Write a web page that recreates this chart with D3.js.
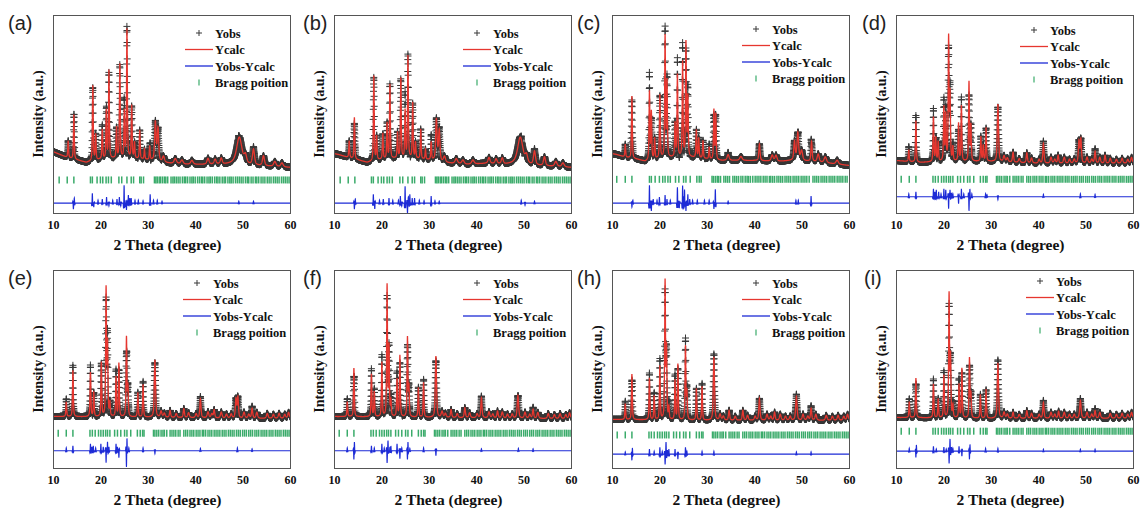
<!DOCTYPE html>
<html><head><meta charset="utf-8">
<script src="https://cdn.jsdelivr.net/npm/d3@7"></script>
<style>body{margin:0;background:#fff} .serif{font-family:"Liberation Serif","Times New Roman",serif;font-weight:bold} .sans{font-family:"Liberation Sans",Arial,sans-serif}</style>
</head><body>
<svg id="chart" width="1140" height="510"></svg>
<script>
// ---------------- DATA ----------------
const panelLabels = ["(a)","(b)","(c)","(d)","(e)","(f)","(h)","(i)"];
const xTicks = [10,20,30,40,50,60];
const legendLabels = ["Yobs","Ycalc","Yobs-Ycalc","Bragg poition"];
const xTitle = "2 Theta (degree)";
const yTitle = "Intensity (a.u.)";

// background control points [2theta, intensity]
const bgA = [[10,31],[11,30],[13,28],[15.5,26.5],[17,25.5],[18,26],[20,27],[23,27.5],[27,27.5],[29,27],[31,26.5],[33,25.5],[35,25],[38,24.5],[42,24.5],[46,24.5],[48,25],[52,24],[56,23.5],[60,23]];
const bgB = [[10,30],[11,29.5],[13,28],[15.5,26.5],[17,25.5],[18,26],[20,27],[23,27.5],[27,27.5],[29,27],[31,26.5],[33,25.5],[35,25],[38,24.5],[42,25],[46,24.5],[48,25],[52,24],[56,23.5],[60,23]];
const bgC = [[10,30],[11,29.5],[13,28],[15.5,27],[17,26],[18,26.5],[20,27.5],[23,28],[27,28],[29,27.5],[31,27],[33,26.5],[36,26.5],[40,26.5],[45,26],[48,26.5],[52,26],[56,25],[60,24]];
const bgD = [[10,26.5],[15,25.5],[20,26],[30,26],[40,25],[50,25],[60,25]];
const bgE = [[10,26],[20,25.8],[30,25.6],[40,25.3],[50,25],[60,25]];
const bgF = [[10,26],[30,25.5],[60,24.8]];
const bgH = [[10,24.5],[30,24],[60,24]];
const bgI = [[10,25.5],[30,25],[60,25]];

// reflections [2theta, height above background, fwhm (optional)]
const peaksA = [[13.2,8.5],[14.4,22.5],[18.4,38],[19.0,13],[20.4,15],[21.25,24],[21.8,44.5],[23.4,15.5],[24.1,47.5],[25.05,23],[25.6,65],[26.6,26.5],[27.2,8],[28.3,14.5],[29.3,5],[30.4,7],[31.6,19.5,0.35],[32.15,16.5,0.35],[33.3,3,0.5],[35.8,2.5,0.6],[37.2,2,0.6],[39.3,2,0.6],[42.7,3,0.5],[44.2,2.5,0.5],[45.5,3,0.5],[49.3,13.5,1.3],[50.6,4,0.6],[52.3,8,0.5],[54.4,5,0.5],[56.8,2.5,0.6],[58.3,2,0.6]];
const peaksB = [[13.2,8.5],[14.3,21],[18.4,43],[19.0,12],[20.3,13],[21.2,18],[21.8,37.5],[23.4,13],[24.1,40.5],[25.0,24],[25.6,51.5],[26.6,28],[27.2,8],[28.3,15],[29.3,5],[30.5,9],[31.6,21,0.35],[32.2,15.5,0.35],[33.3,3,0.5],[35.8,2.5,0.6],[37.2,2,0.6],[39.3,2,0.6],[42.7,3,0.5],[44.2,2.5,0.5],[45.5,3,0.5],[49.3,13.5,1.3],[50.6,4,0.6],[52.3,7,0.5],[54.4,4.5,0.5],[56.8,2.5,0.6],[58.3,2,0.6]];
const peaksC = [[12.8,6.5],[14.2,31.5],[17.9,34.5],[18.3,24],[19.0,10.5],[20.1,32],[21.2,61],[21.6,38],[23.3,17],[23.8,41.5],[24.9,48],[25.6,57.5],[26.0,30],[27.8,14],[28.3,10],[29.2,9],[30.5,6],[31.5,25],[31.9,23],[34.5,3,0.5],[37.2,2,0.6],[41.1,8.5,0.3],[43.8,3,0.5],[44.6,3,0.5],[48.5,9.5,0.35],[49.2,14,0.4],[50.0,5,0.5],[52.1,10,0.3],[53.5,4,0.5],[55,3,0.6],[57.5,2,0.6]];
const minorDI = [[32.8,3,0.4],[33.5,2,0.4],[36.0,2,0.4],[38.6,2.5,0.4],[40.2,2,0.4],[42.7,3,0.4],[43.5,2,0.4],[45.5,3,0.4],[46.6,2,0.4],[47.6,2,0.4],[50.3,3,0.4],[51.3,2,0.4],[53.0,3,0.4],[55.2,2.5,0.4],[56.5,2,0.4],[57.7,2.5,0.4],[58.9,2,0.4],[59.7,3,0.4]];
const peaksD = [[12.7,6],[14.2,21],[17.9,22.5],[18.4,12],[18.9,10],[20.1,27],[20.5,23],[21.1,62],[21.4,33],[22.0,7],[23.2,19],[23.8,28],[25.4,40],[25.8,18],[27.9,12.5],[28.4,8],[29.0,17],[31.5,29,0.3],[34.7,5,0.3],[37.6,5,0.3],[41.1,10,0.3],[44.2,4,0.3],[48.6,11,0.3],[49.0,12,0.3],[52.0,6,0.3],[54.1,4,0.3]];
const peaksE = [[12.8,7.4],[14.2,23.4],[17.9,22.4],[18.6,12.4],[20.2,27.4],[21.2,64],[21.5,36],[22.0,7],[23.3,20],[23.9,27],[25.5,40],[25.8,15],[27.9,12.4],[29.0,16.4],[31.5,29,0.3],[34.7,3.5,0.3],[37.6,4.5,0.3],[41.1,9.5,0.3],[44.0,4,0.3],[48.6,9.5,0.3],[49.0,10.5,0.3],[52.0,5,0.3]];
const peaksF = [[12.8,7.5],[14.2,24.5],[17.9,21.5],[18.5,12.5],[20.1,27.5],[21.2,66],[21.6,35],[22.0,7.5],[23.3,19],[23.9,31],[25.5,40],[25.8,15],[27.8,15],[28.9,17.5],[31.5,31,0.3],[34.7,4,0.3],[37.6,5,0.3],[41.1,10,0.3],[44.5,3.5,0.3],[48.8,11.5,0.35],[52.0,4.5,0.3]];
const peaksH = [[12.8,8],[14.2,23],[17.9,21],[18.9,12],[20.1,27],[21.2,69],[21.5,35],[22.0,6],[23.3,20],[23.9,28],[25.5,37],[25.8,14],[27.8,16],[29.0,17],[31.5,32,0.3],[34.7,5,0.3],[37.6,5,0.3],[41.1,11,0.3],[44.3,4,0.3],[48.9,12,0.35],[52.0,6,0.3]];
const peaksI = [[12.8,8],[14.2,20],[17.9,17],[18.9,9.6],[20.1,21.4],[21.2,62],[21.5,30],[22.0,6],[23.3,17],[23.9,25],[25.5,30],[25.8,12],[27.8,12],[29.0,14.7],[31.5,28,0.3],[34.7,3,0.3],[37.6,3.8,0.3],[41.1,8,0.3],[44.3,3.5,0.3],[48.9,9,0.35],[52.0,3.8,0.3]];

// difference-curve features [2theta, amplitude]
const diffA = [[14.3,-3],[14.5,2.5],[18.3,5],[18.6,-2],[19.5,1.5],[20.4,2],[21.3,3],[21.8,-1.5],[22.6,1.5],[23.5,2],[24.0,3],[24.3,-1.5],[25.0,9],[25.3,-2],[25.5,-3.5],[25.9,4],[26.2,2.5],[26.5,2.5],[27.3,1.5],[28.0,1.5],[29.0,1.2],[30.5,4.5],[31.2,1.5],[32.0,1.5],[33.0,1],[49.2,1],[52.3,1]];
const diffB = [[14.3,-3],[14.5,2],[18.3,4.5],[18.6,-3],[19.6,1.5],[20.4,2],[21.6,2.5],[22.4,1.5],[23.6,1.5],[24.0,3.5],[24.3,-1.5],[25.0,8.5],[25.5,-5],[25.7,3],[26.0,4.5],[26.5,2.5],[27.0,2.5],[28.0,1.5],[29.0,1.2],[30.5,3.5],[31.3,1.2],[32.2,1],[49.5,1.5],[50.3,-1.2],[52.3,1]];
const diffC = [[14.2,-2],[14.4,1.5],[17.9,9],[18.3,-4],[18.7,2],[19.5,1.5],[20.0,3],[21.2,4],[21.6,2],[22.3,1.5],[23.8,8],[24.2,-2.5],[24.9,9],[25.1,4],[25.3,7],[25.6,-4],[26.0,4.5],[26.4,2],[27.0,1.5],[28.0,1.5],[29.5,1.5],[30.5,1.5],[31.5,-3],[31.8,7],[34.5,1],[48.8,1.5],[49.3,1.5],[52.0,3.5]];
const diffD = [[12.7,1.5],[14.2,2.5],[17.9,4],[18.2,2.5],[18.5,3.5],[19.0,2.5],[19.5,1.5],[20.1,4],[20.5,3.5],[21.1,-6],[21.4,3.5],[21.7,2],[22.0,1.5],[23.2,-3.5],[23.8,4],[24.3,1.5],[25.4,-7],[25.6,3.5],[26.0,1.5],[28.9,1.5],[29.2,1],[31.5,-1.5],[41.1,1.2],[48.9,1.5],[52.0,1.2]];
const diffE = [[12.8,1.5],[14.2,2.5],[17.9,3.5],[18.2,2],[18.5,2.5],[19.0,1.5],[20.1,3.5],[20.6,2],[21.2,-6],[21.5,4.5],[21.8,2],[23.3,3.5],[23.6,2],[23.9,-3.5],[25.5,-7],[25.6,4.5],[26.0,1.5],[29.0,1.5],[31.5,-1.5],[41.1,1.2],[48.9,1.5],[52.0,1]];
const diffF = [[12.8,1.5],[14.2,-3.5],[14.3,3.5],[17.9,2.5],[18.5,1.5],[20.1,3.5],[20.6,1.5],[21.2,-6],[21.4,5],[21.8,2],[22.0,2.5],[23.3,3.5],[23.9,-4],[24.3,1.5],[25.5,-3.5],[25.6,3.5],[26.0,1.2],[28.9,1.5],[31.5,-2.5],[41.1,1],[48.9,1.2],[52.0,1]];
const diffH = [[12.8,1.2],[14.2,-2.5],[14.3,2.5],[17.9,2.5],[18.9,1.5],[20.1,3.5],[20.6,1.5],[21.2,-5],[21.4,6],[21.7,2],[22.0,2.5],[23.3,2.5],[23.9,-2.5],[25.5,3.5],[25.8,1.5],[29.0,1.5],[31.5,1.5],[48.9,1.2],[52.0,1.2]];
const diffI = [[12.8,1.5],[14.2,-2.5],[14.3,2.5],[17.9,2.5],[18.5,1.2],[20.1,2],[20.6,1.2],[21.2,-6],[21.4,6],[21.7,2],[22.0,1.5],[23.3,2.5],[23.9,-2.5],[25.5,-3.5],[25.6,2.5],[28.9,1.5],[31.5,1.5],[41.1,1],[48.9,1],[52.0,1]];
const diffBase = [5,5,5,8.2,8.7,8.7,7,8.5];
const braggLevel = [16.7,16.7,17,17,17.6,17.6,16.7,18.6];

// Bragg reflection positions
const braggAB = [11.3,13.0,14.4,17.9,18.3,19.3,20.0,20.5,21.2,21.7,22.3,23.9,24.5,25.6,26.5,27.0,28.3,28.6,29.1,31.4,31.7,32.0,32.4,32.7,33.1,33.5,33.8,34.2,34.9,35.3,35.6,36.0,36.4,36.8,37.3,37.7,38.0,38.4,38.9,39.3,39.6,40.0,40.5,40.9,41.3,41.6,42.0,42.5,42.9,43.2,43.6,44.1,44.5,44.8,45.2,45.7,46.1,46.4,46.9,47.3,47.6,48.0,48.5,48.9,49.3,49.7,50.1,50.6,51.0,51.3,51.8,52.2,52.7,53.0,53.4,53.9,54.3,54.7,55.2,55.6,56.0,56.5,56.9,57.3,57.7,58.2,58.6,59.0,59.4,59.8];
const braggC = [11.0,12.8,14.2,17.9,18.3,19.1,20.0,20.7,21.2,21.8,22.3,23.4,24.1,25.1,25.6,26.5,27.9,28.4,28.8,31.1,31.4,31.8,32.2,32.5,32.9,33.6,34.0,34.4,34.8,35.5,35.9,36.3,36.7,37.2,37.6,38.1,38.5,38.8,39.2,39.7,40.2,40.6,41.0,41.4,41.9,42.3,42.7,43.2,43.5,43.9,44.3,44.8,45.2,45.6,46.0,46.5,46.9,47.3,47.7,48.2,48.6,49.0,49.4,49.9,50.3,50.7,51.1,51.6,52.4,52.8,53.2,53.6,54.1,54.5,54.9,55.3,55.8,56.2,56.6,57.0,57.5,57.9,58.3,58.7,59.2,59.6];
const braggDI = [11.1,12.8,14.2,17.8,18.3,18.9,19.6,20.1,20.6,21.1,21.5,22.0,23.0,23.6,24.3,25.1,25.6,26.4,27.8,28.4,28.9,29.2,31.2,31.5,31.9,32.3,32.8,33.2,33.5,34.0,34.7,35.1,35.5,35.9,36.4,36.8,37.6,38.0,38.4,38.9,39.3,39.7,40.2,40.6,41.0,41.5,41.8,42.2,42.7,43.1,43.5,44.0,44.4,44.8,45.2,45.7,46.1,46.5,47.0,47.4,47.8,48.2,48.7,49.1,49.5,50.0,50.4,50.8,51.3,51.7,52.1,52.6,53.0,53.4,53.9,54.3,54.7,55.1,55.6,56.0,56.4,56.9,57.3,57.7,58.1,58.6,59.0,59.4,59.8];

const panelData = [
  {bg:bgA, peaks:peaksA, diff:diffA, bragg:braggAB},
  {bg:bgB, peaks:peaksB, diff:diffB, bragg:braggAB},
  {bg:bgC, peaks:peaksC, diff:diffC, bragg:braggC},
  {bg:bgD, peaks:peaksD.concat(minorDI), diff:diffD, bragg:braggDI},
  {bg:bgE, peaks:peaksE.concat(minorDI), diff:diffE, bragg:braggDI},
  {bg:bgF, peaks:peaksF.concat(minorDI), diff:diffF, bragg:braggDI},
  {bg:bgH, peaks:peaksH.concat(minorDI), diff:diffH, bragg:braggDI},
  {bg:bgI, peaks:peaksI.concat(minorDI), diff:diffI, bragg:braggDI}
];

// ---------------- LAYOUT ----------------
const colLeft = [53, 334, 612, 896];
const rowTop = [15, 270];
const PW = 237, PH = 198;
const labelDx = [-45,-31,-35,-34,-45,-31,-35,-32];
const legendX = [162,159,160,154,160,159,160,160];
const legendY = [18,18,14,15,13,13,13,11];
const C_OBS = "#383838", C_CALC = "#e6362f", C_DIFF = "#1d2bd6", C_BRAGG = "#3aab6a";

const svg = d3.select("#chart");
const grid = d3.range(10, 60.0001, 0.02);

function profile(x, p, w){
  const d = (x - p) / (w / 2);
  return 0.6 / (1 + d*d) + 0.4 * Math.exp(-Math.LN2 * d * d);
}
function ring(dx){
  const e = dx / 0.12;
  return Math.exp(-e*e) * Math.cos(2*Math.PI*dx/0.3);
}

panelData.forEach((pd, i) => {
  const col = i % 4, row = Math.floor(i / 4);
  const left = colLeft[col], top = rowTop[row];
  const g = svg.append("g").attr("transform", `translate(${left},${top})`);
  const x = d3.scaleLinear().domain([10, 60]).range([0, PW]);
  const y = d3.scaleLinear().domain([0, 100]).range([PH, 0]);
  const bgScale = d3.scaleLinear().domain(pd.bg.map(d => d[0])).range(pd.bg.map(d => d[1])).clamp(true);

  const pts = grid.map(t => {
    let c = bgScale(t);
    for (const p of pd.peaks) c += p[1] * profile(t, p[0], p[2] || 0.2);
    let df = 0;
    for (const s of pd.diff) { const dx = t - s[0]; if (Math.abs(dx) < 0.6) df += s[1] * ring(dx); }
    return {t, calc: c, diff: df, obs: c + df};
  });

  const clipId = "clip" + i;
  g.append("clipPath").attr("id", clipId).append("rect").attr("width", PW).attr("height", PH);
  const inner = g.append("g").attr("clip-path", `url(#${clipId})`);

  // observed crosses
  let dp = "";
  for (const p of pts) {
    const px = x(p.t), py = y(p.obs);
    dp += `M${(px-3.5).toFixed(1)},${py.toFixed(1)}h7M${px.toFixed(1)},${(py-3.5).toFixed(1)}v7`;
  }
  inner.append("path").attr("d", dp).attr("fill", "none").attr("stroke", C_OBS).attr("stroke-width", 1);

  // calculated line
  inner.append("path").datum(pts)
    .attr("d", d3.line().x(d => x(d.t)).y(d => y(d.calc)))
    .attr("fill", "none").attr("stroke", C_CALC).attr("stroke-width", 1.3);

  // bragg ticks
  inner.append("g").selectAll("line").data(pd.bragg).join("line")
    .attr("x1", d => x(d)).attr("x2", d => x(d))
    .attr("y1", y(braggLevel[i]) - 3.5).attr("y2", y(braggLevel[i]) + 3.5)
    .attr("stroke", C_BRAGG).attr("stroke-width", 1.5);

  // difference line
  inner.append("path").datum(pts)
    .attr("d", d3.line().x(d => x(d.t)).y(d => y(diffBase[i] + d.diff)))
    .attr("fill", "none").attr("stroke", C_DIFF).attr("stroke-width", 1.1);

  // frame
  g.append("rect").attr("x", 0.5).attr("y", 0.5).attr("width", PW).attr("height", PH)
    .attr("fill", "none").attr("stroke", "#555").attr("stroke-width", 1);

  // x axis
  const ax = g.append("g").attr("transform", `translate(0,${PH})`)
    .call(d3.axisBottom(x).tickValues(xTicks).tickSize(0).tickPadding(7.5).tickFormat(d3.format("d")));
  ax.attr("font-family", null).attr("font-size", null);
  ax.select(".domain").remove();
  ax.selectAll("text").attr("class", "serif").attr("font-size", 12).attr("fill", "#111");

  g.append("text").attr("class", "serif").attr("x", PW/2 - 4).attr("y", PH + 37).attr("text-anchor", "middle")
    .attr("font-size", 15.5).attr("fill", "#111").text(xTitle);

  g.append("text").attr("class", "serif").attr("transform", `translate(-10,${PH/2}) rotate(-90)`).attr("text-anchor", "middle")
    .attr("font-size", 14).attr("fill", "#111").text(yTitle);

  g.append("text").attr("class", "sans").attr("x", labelDx[i]).attr("y", 15)
    .attr("font-size", 20).attr("fill", "#222").text(panelLabels[i]);

  // legend
  const lx = legendX[i], ly = legendY[i];
  const lg = g.append("g");
  legendLabels.forEach((lab, k) => {
    const cy = ly + k * 16.5;
    if (k === 0) {
      lg.append("path").attr("d", `M${lx-19},${cy}h6M${lx-16},${cy-3}v6`).attr("stroke", C_OBS).attr("stroke-width", 1);
    } else if (k === 1 || k === 2) {
      lg.append("line").attr("x1", lx - 30).attr("x2", lx - 2).attr("y1", cy).attr("y2", cy)
        .attr("stroke", k === 1 ? C_CALC : C_DIFF).attr("stroke-width", 1.3);
    } else {
      lg.append("line").attr("x1", lx - 16).attr("x2", lx - 16).attr("y1", cy - 3).attr("y2", cy + 3)
        .attr("stroke", C_BRAGG).attr("stroke-width", 1.2);
    }
    lg.append("text").attr("class", "serif").attr("x", lx).attr("y", cy + 4.5)
      .attr("font-size", 12.5).attr("fill", "#111").text(lab);
  });
});
</script>
</body></html>
